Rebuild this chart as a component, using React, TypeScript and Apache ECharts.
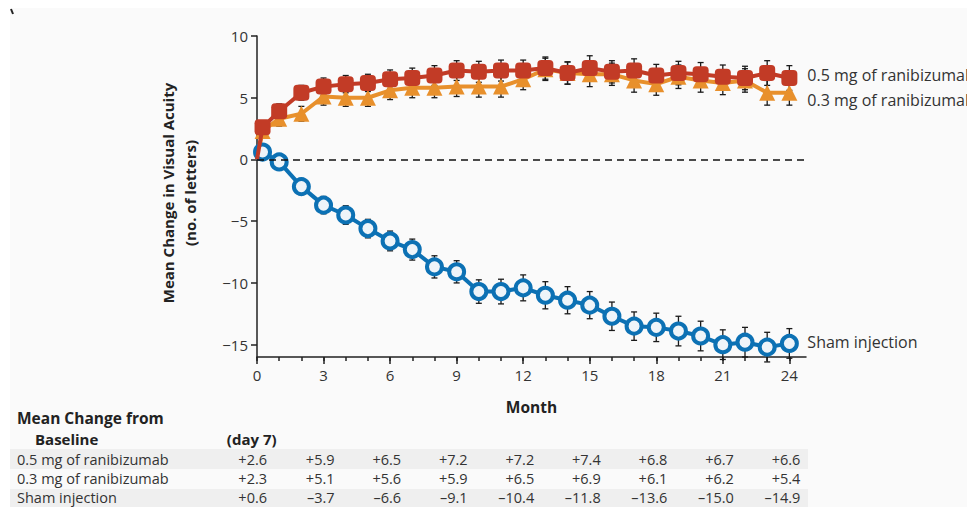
import React, { useEffect, useRef } from "react";
import * as echarts from "echarts";

// x positions (months); 0.25 = day 7
const months = [0, 0.25, 1, 2, 3, 4, 5, 6, 7, 8, 9, 10, 11, 12, 13, 14, 15, 16, 17, 18, 19, 20, 21, 22, 23, 24];
const seriesNames = ["0.5 mg of ranibizumab", "0.3 mg of ranibizumab", "Sham injection"];
const high = [0, 2.6, 3.9, 5.4, 5.9, 6.1, 6.2, 6.5, 6.6, 6.8, 7.2, 7.1, 7.2, 7.2, 7.4, 7.0, 7.4, 7.1, 7.2, 6.8, 7.0, 6.9, 6.7, 6.6, 7.0, 6.6];
const low = [0, 2.3, 3.3, 3.7, 5.1, 5.0, 5.0, 5.6, 5.8, 5.8, 5.9, 5.9, 5.9, 6.5, 7.3, 7.0, 6.9, 6.9, 6.4, 6.1, 6.7, 6.4, 6.2, 6.4, 5.4, 5.4];
const sham = [0, 0.6, -0.2, -2.2, -3.7, -4.5, -5.6, -6.6, -7.3, -8.7, -9.1, -10.7, -10.7, -10.4, -11.0, -11.4, -11.8, -12.7, -13.5, -13.6, -13.9, -14.3, -15.0, -14.8, -15.2, -14.9];
const highErr = [0, 0.5, 0.6, 0.6, 0.7, 0.7, 0.7, 0.75, 0.8, 0.8, 0.8, 0.85, 0.85, 0.85, 0.9, 0.9, 1.0, 0.9, 0.95, 0.9, 0.95, 0.95, 0.95, 0.95, 1.0, 1.0];
const lowErr = [0, 0.5, 0.6, 0.6, 0.7, 0.7, 0.7, 0.75, 0.8, 0.8, 0.8, 0.85, 0.85, 0.85, 0.9, 0.9, 1.0, 0.9, 0.95, 0.9, 0.95, 0.95, 0.95, 0.95, 1.0, 1.0];
const shamErr = [0, 0.5, 0.6, 0.65, 0.7, 0.75, 0.75, 0.8, 0.85, 0.9, 0.9, 0.95, 1.0, 1.05, 1.1, 1.1, 1.1, 1.15, 1.15, 1.15, 1.2, 1.2, 1.2, 1.2, 1.2, 1.2];

const xTickMonths = [0, 1, 2, 3, 4, 5, 6, 7, 8, 9, 10, 11, 12, 13, 14, 15, 16, 17, 18, 19, 20, 21, 22, 23, 24];
const xLabelMonths = [0, 3, 6, 9, 12, 15, 18, 21, 24];
const yTicks = [-15, -10, -5, 0, 5, 10];

// table
const tableMonths = [0.25, 3, 6, 9, 12, 15, 18, 21, 24];
const tableHigh = [2.6, 5.9, 6.5, 7.2, 7.2, 7.4, 6.8, 6.7, 6.6];
const tableLow = [2.3, 5.1, 5.6, 5.9, 6.5, 6.9, 6.1, 6.2, 5.4];
const tableSham = [0.6, -3.7, -6.6, -9.1, -10.4, -11.8, -13.6, -15.0, -14.9];

const FONT = "Open Sans";
const RED = "#c23b26";
const ORANGE = "#e8902c";
const BLUE = "#0c71b4";
const TEXT = "#333";

const fmt = (v: number) => (v >= 0 ? "+" : "\u2013") + Math.abs(v).toFixed(1);

function lineData(vals: number[]) {
  return months.map((m, i) =>
    i === 0 ? { value: [m, vals[i]], symbol: "none" } : { value: [m, vals[i]] }
  );
}
function errData(vals: number[], errs: number[]) {
  return months.slice(1).map((m, j) => [m, vals[j + 1] - errs[j + 1], vals[j + 1] + errs[j + 1]]);
}
const errRender = (params: any, api: any) => {
  const x = api.value(0);
  const p1 = api.coord([x, api.value(1)]);
  const p2 = api.coord([x, api.value(2)]);
  const cw = 3;
  const st = { stroke: "#1a1a1a", lineWidth: 1.3 };
  return {
    type: "group",
    children: [
      { type: "line", shape: { x1: p1[0], y1: p1[1], x2: p2[0], y2: p2[1] }, style: st },
      { type: "line", shape: { x1: p1[0] - cw, y1: p1[1], x2: p1[0] + cw, y2: p1[1] }, style: st },
      { type: "line", shape: { x1: p2[0] - cw, y1: p2[1], x2: p2[0] + cw, y2: p2[1] }, style: st },
    ],
  };
};

export default function App() {
  const ref = useRef<HTMLDivElement>(null);
  useEffect(() => {
    if (!ref.current) return;
    const chart = echarts.init(ref.current, null, { renderer: "svg" });
    const axisLineStyle = { color: "#222", width: 1.5 };
    const option: any = {
      animation: false,
      grid: { left: 257, top: 36, width: 549, height: 321 },
      xAxis: [
        {
          type: "value", min: 0, max: 24.75, position: "bottom",
          axisLine: { show: true, onZero: false, lineStyle: axisLineStyle },
          axisTick: { show: true, length: 4, customValues: xTickMonths, lineStyle: axisLineStyle },
          axisLabel: { show: false },
          splitLine: { show: false },
        },
        {
          type: "value", min: 0, max: 24.75, position: "bottom",
          axisLine: { show: false, onZero: false },
          axisTick: { show: true, length: 7, customValues: xLabelMonths, lineStyle: axisLineStyle },
          axisLabel: { show: true, customValues: xLabelMonths, margin: 10, color: TEXT, fontSize: 15, fontFamily: FONT },
          splitLine: { show: false },
          name: "Month", nameLocation: "middle", nameGap: 50,
          nameTextStyle: { fontWeight: "bold", fontSize: 15.5, color: "#222", fontFamily: FONT, verticalAlign: "middle" },
        },
      ],
      yAxis: {
        type: "value", min: -16, max: 10,
        axisLine: { show: true, onZero: false, lineStyle: axisLineStyle },
        axisTick: { show: true, length: 6, customValues: yTicks, lineStyle: axisLineStyle },
        axisLabel: { show: true, customValues: yTicks, margin: 9, color: TEXT, fontSize: 15, fontFamily: FONT,
          formatter: (v: number) => (v < 0 ? "\u2212" + Math.abs(v) : String(v)) },
        splitLine: { show: false },
      },
      series: [
        { type: "custom", name: "errSham", renderItem: errRender, data: errData(sham, shamErr), encode: { x: 0, y: [1, 2] }, z: 1 },
        { type: "custom", name: "errLow", renderItem: errRender, data: errData(low, lowErr), encode: { x: 0, y: [1, 2] }, z: 1 },
        { type: "custom", name: "errHigh", renderItem: errRender, data: errData(high, highErr), encode: { x: 0, y: [1, 2] }, z: 1 },
        {
          type: "line", name: seriesNames[2], data: lineData(sham), z: 3,
          lineStyle: { color: BLUE, width: 4 }, symbol: "circle", symbolSize: 15,
          itemStyle: { color: "#eef4f9", borderColor: BLUE, borderWidth: 4 },
          endLabel: { show: true, formatter: seriesNames[2], distance: 18, color: TEXT, fontSize: 16, fontFamily: FONT, offset: [0, -1] },
          markLine: {
            silent: true, symbol: "none", label: { show: false },
            lineStyle: { color: "#111", type: [7, 5], width: 1.5 },
            data: [{ yAxis: 0 }],
          },
        },
        {
          type: "line", name: seriesNames[1], data: lineData(low), z: 3,
          lineStyle: { color: ORANGE, width: 4 }, symbol: "triangle", symbolSize: 16,
          itemStyle: { color: ORANGE },
          endLabel: { show: true, formatter: seriesNames[1], distance: 18, color: TEXT, fontSize: 16, fontFamily: FONT, offset: [0, 7] },
        },
        {
          type: "line", name: seriesNames[0], data: lineData(high), z: 4,
          lineStyle: { color: RED, width: 4 }, symbol: "roundRect", symbolSize: 16,
          itemStyle: { color: RED },
          endLabel: { show: true, formatter: seriesNames[0], distance: 18, color: TEXT, fontSize: 16, fontFamily: FONT, offset: [0, -3] },
        },
      ],
    };
    chart.setOption(option);

    const xp = (m: number) => chart.convertToPixel({ xAxisIndex: 0 }, m) as number;
    const rows = [tableHigh, tableLow, tableSham];
    const rowY = [459, 478, 497];
    const TS = 14.5;
    const g: any[] = [
      { type: "rect", z: -100, shape: { x: 10, y: 8, width: 957, height: 499 }, style: { fill: "#fafafa" } },
      { type: "rect", z: -99, shape: { x: 10, y: 449, width: 798, height: 20 }, style: { fill: "#efefef" } },
      { type: "rect", z: -99, shape: { x: 10, y: 489, width: 798, height: 20 }, style: { fill: "#efefef" } },
      { type: "line", z: 10, shape: { x1: 11, y1: 9, x2: 13, y2: 14 }, style: { stroke: "#222", lineWidth: 2 } },
      {
        type: "text", x: 179, y: 193, rotation: Math.PI / 2, z: 10,
        style: { text: "Mean Change in Visual Acuity\n(no. of letters)", align: "center", verticalAlign: "middle",
          fontSize: 15, fontWeight: "bold", fontFamily: FONT, fill: "#222", lineHeight: 22 },
      },
      { type: "text", x: 17, y: 418, z: 10, style: { text: "Mean Change from", verticalAlign: "middle", fontSize: 15.5, fontWeight: "bold", fontFamily: FONT, fill: "#222" } },
      { type: "text", x: 35, y: 439, z: 10, style: { text: "Baseline", verticalAlign: "middle", fontSize: 15, fontWeight: "bold", fontFamily: FONT, fill: "#222" } },
      { type: "text", x: xp(tableMonths[0]) + 14, y: 438.5, z: 10, style: { text: "(day 7)", align: "right", verticalAlign: "middle", fontSize: 15, fontWeight: "bold", fontFamily: FONT, fill: "#222" } },
    ];
    rows.forEach((vals, r) => {
      g.push({ type: "text", x: 17, y: rowY[r], z: 10, style: { text: seriesNames[r], verticalAlign: "middle", fontSize: TS, fontFamily: FONT, fill: TEXT } });
      vals.forEach((v, c) => {
        const m = tableMonths[c];
        const right = xp(m) + (c === 0 ? 4.5 : 11);
        g.push({ type: "text", x: right, y: rowY[r], z: 10, style: { text: fmt(v), align: "right", verticalAlign: "middle", fontSize: TS, fontFamily: FONT, fill: TEXT } });
      });
    });
    chart.setOption({ graphic: g });

    return () => chart.dispose();
  }, []);
  return <div ref={ref} style={{ position: "absolute", left: 0, top: 0, width: 967, height: 507 }} />;
}
